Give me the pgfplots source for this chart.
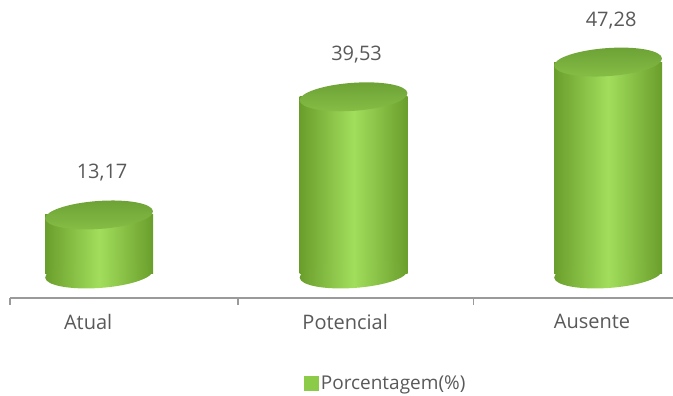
\documentclass[border=0pt]{standalone}
\usepackage{pgfplots}
\pgfplotsset{compat=1.18}
\usepackage{pgfplotstable}
\usepackage{fontspec}
\setmainfont{Open Sans}
\usetikzlibrary{shapes.geometric}
\definecolor{txt}{HTML}{595959}
\definecolor{gdark}{HTML}{6A9E2C}
\definecolor{glight}{HTML}{A2DE5C}
\definecolor{gcap}{HTML}{6CA035}
\definecolor{gcapfront}{HTML}{86BF46}
\definecolor{axgray}{HTML}{9A9A9A}
\definecolor{leg}{HTML}{8CCB48}

\pgfplotstableread{
x base value
0 0 13.17
1 0 39.53
2 0 47.28
}\datatable

\pgfplotsset{
  body/.style={ybar, bar width=108pt, draw=none, forget plot,
    left color=gdark, right color=gdark, middle color=glight,
    nodes near coords={\pgfmathprintnumber[use comma,fixed,fixed zerofill,precision=2,assume math mode=true]{\pgfplotspointmeta}},
    every node near coord/.append style={anchor=center, yshift=42pt, xshift=3pt, text=txt, font=\fontsize{20}{23}\selectfont}},
}

\begin{document}
\begin{tikzpicture}
\useasboundingbox (0,0) rectangle (673pt,396pt);
\begin{axis}[
  at={(10pt,98pt)}, anchor=south west,
  scale only axis, width=663pt, height=288pt,
  xmin=-0.35, xmax=2.255, ymin=-5.36, ymax=58.9,
  clip=false,
  axis x line*=bottom, axis y line=none,
  x axis line style={draw=axgray, line width=1.3pt},
  xtick={-0.043,0.967,1.937},
  xticklabels={Atual,Potencial,{\raisebox{-5pt}{Ausente}}},
  major tick length=0pt,
  xticklabel style={font=\fontsize{20}{23}\selectfont, text=txt, yshift=-13pt},
  extra x ticks={-0.35,0.546,1.47},
  extra x tick labels={},
  extra x tick style={major tick length=7pt, tick align=outside, major tick style={draw=axgray, line width=1.3pt}},
  legend style={at={(0.567,-0.296)}, anchor=center, draw=none, fill=none, font=\fontsize{19}{22}\selectfont, text=txt},
]
% bottom caps
\addplot[draw=none, mark=none, forget plot, nodes near coords={\relax},
  every node near coord/.style={ellipse, minimum width=108pt, minimum height=28pt, inner sep=0pt, anchor=center, rotate=4, left color=gdark, right color=gdark, middle color=glight}]
  table[x=x,y=base]{\datatable};
% bodies, one per cylinder so each has its own shading
\addplot[body, restrict x to domain=-0.5:0.5] table[x=x,y=value]{\datatable};
\addplot[body, restrict x to domain=0.5:1.5] table[x=x,y=value]{\datatable};
\addplot[body, restrict x to domain=1.5:2.5] table[x=x,y=value]{\datatable};
% top caps
\addplot[draw=none, mark=none, forget plot, nodes near coords={\relax},
  every node near coord/.style={ellipse, minimum width=108pt, minimum height=28pt, inner sep=0pt, anchor=center, rotate=4, top color=gcap, bottom color=gcapfront}]
  table[x=x,y=value]{\datatable};
\addlegendimage{legend image code/.code={\fill[leg] (-3pt,-7pt) rectangle (11pt,7pt);}}
\addlegendentry{Porcentagem(\%)}
\end{axis}
\end{tikzpicture}
\end{document}
